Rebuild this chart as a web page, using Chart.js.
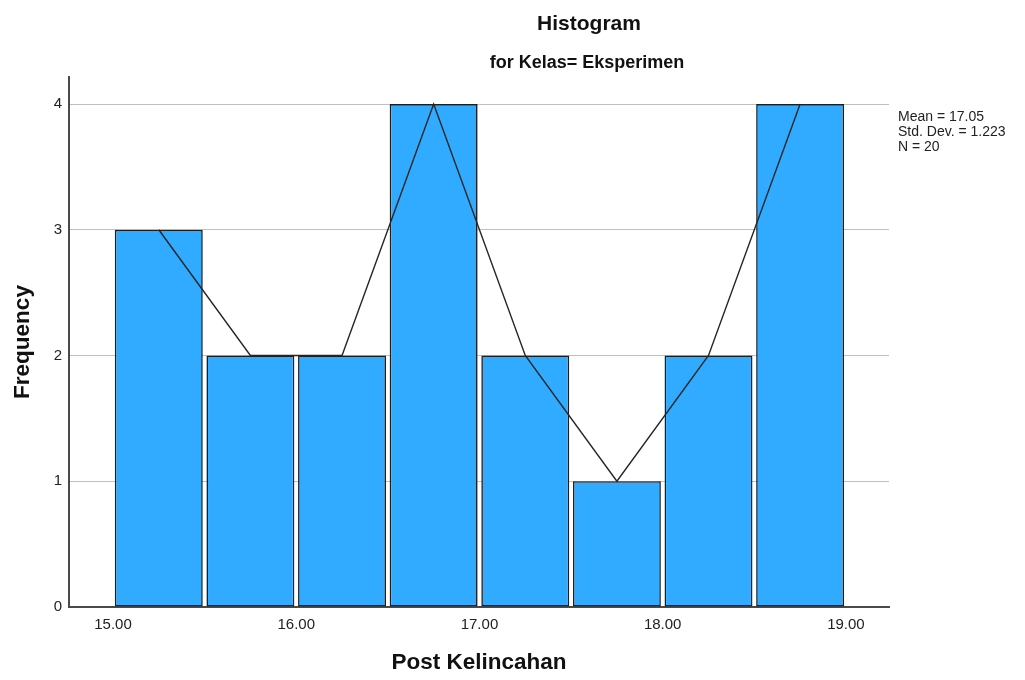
<!DOCTYPE html>
<html>
<head>
<meta charset="utf-8">
<title>Histogram - Post Kelincahan</title>
<script src="https://cdn.jsdelivr.net/npm/chart.js@4/dist/chart.umd.min.js"></script>
<style>
  html, body { margin: 0; padding: 0; background: #ffffff; }
  #wrap { width: 1025px; height: 680px; }
</style>
</head>
<body>
<div id="wrap"><canvas id="hist" width="1025" height="680"></canvas></div>
<script>
// Bin centres (bin width 0.5) and the count in each bin
const binCenters = [15.25, 15.75, 16.25, 16.75, 17.25, 17.75, 18.25, 18.75];
const frequencies = [3, 2, 2, 4, 2, 1, 2, 4];

// Axis ticks
const xTickValues = [15, 16, 17, 18, 19];
const yTickValues = [0, 1, 2, 3, 4];

// Headings and summary statistics
const chartTitle = 'Histogram';
const chartSubtitle = 'for Kelas= Eksperimen';
const xAxisTitle = 'Post Kelincahan';
const yAxisTitle = 'Frequency';
const statLines = ['Mean = 17.05', 'Std. Dev. = 1.223', 'N = 20'];

const FONT = "'Liberation Sans', Arial, sans-serif";

const points = binCenters.map((c, i) => ({ x: c, y: frequencies[i] }));

// Draws the two-line heading and the statistics block
const annotations = {
  id: 'annotations',
  afterDraw(chart) {
    const ctx = chart.ctx;
    ctx.save();
    ctx.fillStyle = '#111111';
    ctx.textAlign = 'center';
    ctx.textBaseline = 'alphabetic';
    ctx.font = 'bold 21px ' + FONT;
    ctx.fillText(chartTitle, 589, 30);
    ctx.font = 'bold 18px ' + FONT;
    ctx.fillText(chartSubtitle, 587, 68);

    ctx.textAlign = 'left';
    ctx.font = '14px ' + FONT;
    ctx.fillStyle = '#222222';
    const x = chart.chartArea.right + 9;
    statLines.forEach((s, i) => ctx.fillText(s, x, 120.5 + i * 15));
    ctx.restore();
  }
};

new Chart(document.getElementById('hist'), {
  type: 'bar',
  data: {
    datasets: [
      {
        type: 'line',
        data: points,
        borderColor: '#262626',
        borderWidth: 1.4,
        pointRadius: 0,
        fill: false,
        tension: 0,
        order: 0
      },
      {
        type: 'bar',
        data: points,
        backgroundColor: '#30abff',
        borderColor: '#1a1f24',
        borderWidth: 1.6,
        borderSkipped: false,
        categoryPercentage: 1,
        barPercentage: 0.96,
        order: 1
      }
    ]
  },
  options: {
    responsive: false,
    devicePixelRatio: 1,
    animation: false,
    layout: { padding: { top: 77, right: 136, bottom: 0, left: 0 } },
    plugins: {
      legend: { display: false },
      tooltip: { enabled: false },
      title: { display: false }
    },
    scales: {
      x: {
        type: 'linear',
        min: 14.76,
        max: 19.235,
        offset: false,
        grid: { display: false, drawTicks: false, offset: false },
        border: { display: true, color: '#4a4a4a', width: 2 },
        afterBuildTicks(scale) { scale.ticks = xTickValues.map(v => ({ value: v })); },
        afterFit(scale) { scale.height = 73; },
        ticks: {
          padding: 9,
          color: '#222222',
          font: { family: FONT, size: 15 },
          maxRotation: 0,
          callback: v => Number(v).toFixed(2)
        },
        title: {
          display: true,
          text: xAxisTitle,
          color: '#111111',
          font: { family: FONT, size: 22.5, weight: 'bold' },
          padding: { top: 0, bottom: 4 }
        }
      },
      y: {
        type: 'linear',
        min: 0,
        max: 4.215,
        grid: {
          drawTicks: false,
          lineWidth: 1,
          color: c => (c.tick && c.tick.value === 0 ? 'rgba(0,0,0,0)' : '#bfbfbf')
        },
        border: { display: true, color: '#4a4a4a', width: 2 },
        afterBuildTicks(scale) { scale.ticks = yTickValues.map(v => ({ value: v })); },
        afterFit(scale) { scale.width = 69; },
        ticks: {
          padding: 7,
          color: '#222222',
          font: { family: FONT, size: 15 },
          callback: v => String(v)
        },
        title: {
          display: true,
          text: yAxisTitle,
          color: '#111111',
          font: { family: FONT, size: 22.5, weight: 'bold' },
          padding: { top: 9, bottom: 0 }
        }
      }
    }
  },
  plugins: [annotations]
});
</script>
</body>
</html>
